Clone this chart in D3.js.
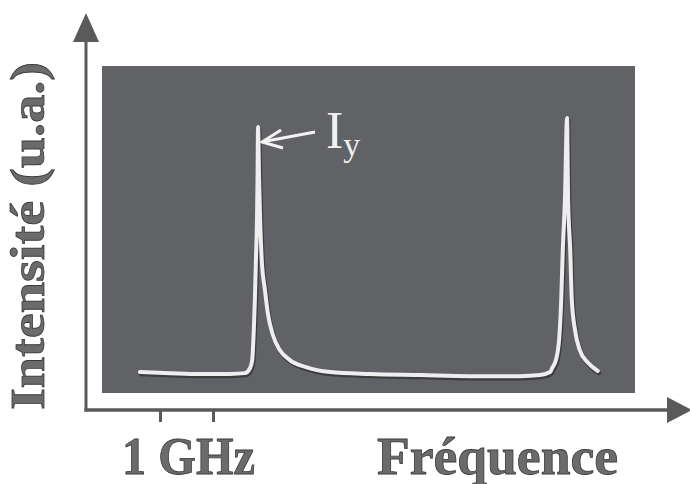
<!DOCTYPE html>
<html>
<head>
<meta charset="utf-8">
<script src="https://cdn.jsdelivr.net/npm/d3@7"></script>
<style>
  html, body { margin: 0; padding: 0; background: #ffffff; }
  svg { display: block; }
</style>
</head>
<body>
<svg id="chart" width="690" height="484"></svg>
<script>
// ---- Data ----
// Frequency in GHz (arbitrary origin), intensity in arbitrary units (u.a.)
const frequency = [0.62, 1.19, 1.75, 2.32, 2.60, 2.70, 2.74, 2.77, 2.79, 2.81, 2.83, 2.84, 2.85,
                   2.87, 2.89, 2.92, 2.98, 3.04, 3.13, 3.26, 3.45, 3.74, 4.21, 4.96, 5.91, 6.85,
                   7.79, 8.17, 8.36, 8.40, 8.47, 8.53, 8.57, 8.60, 8.64, 8.68,
                   8.70, 8.74, 8.77, 8.83, 8.92, 9.08, 9.26];
const intensity = [0.066, 0.062, 0.059, 0.059, 0.062, 0.081, 0.110, 0.221, 0.331, 0.478, 0.625, 0.772, 0.967,
                   0.772, 0.625, 0.478, 0.368, 0.276, 0.202, 0.147, 0.110, 0.085, 0.066, 0.059, 0.055, 0.051,
                   0.051, 0.055, 0.066, 0.081, 0.110, 0.184, 0.331, 0.515, 0.699, 1.000,
                   0.699, 0.515, 0.331, 0.221, 0.147, 0.099, 0.070];
const tickValues = [1, 2];
const tickLabel = "1 GHz";
const xTitle = "Fréquence";
const yTitle = "Intensité (u.a.)";
const peakLabel = "I";
const peakLabelSub = "y";
const peakIndex = 12; // the labelled peak

// ---- Layout ----
const svg = d3.select("#chart");
const x = d3.scaleLinear().domain([1, 2]).range([160, 213]);
const y = d3.scaleLinear().domain([0, 1]).range([390, 118]);

const SERIF = '"Liberation Serif"';
const axisColor = "#5a5a5a";
const panel = { x0: 102, x1: 635, y0: 66, y1: 393 };
const originX = 86, originY = 410;

// dark plot panel
svg.append("rect")
  .attr("x", panel.x0).attr("y", panel.y0)
  .attr("width", panel.x1 - panel.x0).attr("height", panel.y1 - panel.y0)
  .attr("fill", "#616266");

// axes lines
svg.append("line")
  .attr("x1", originX).attr("y1", originY + 1.5)
  .attr("x2", originX).attr("y2", 40)
  .attr("stroke", axisColor).attr("stroke-width", 3);
svg.append("line")
  .attr("x1", originX - 1.5).attr("y1", originY)
  .attr("x2", 670).attr("y2", originY)
  .attr("stroke", axisColor).attr("stroke-width", 3.5);
// arrowheads
svg.append("path")
  .attr("d", `M${originX},13 L${originX - 13},42 L${originX + 13},42 Z`)
  .attr("fill", axisColor);
svg.append("path")
  .attr("d", `M692,${originY} L667,${originY - 13} L667,${originY + 13} Z`)
  .attr("fill", axisColor);

// ticks via d3 axis
const xAxis = d3.axisBottom(x).tickValues(tickValues).tickSize(12).tickFormat("");
const gx = svg.append("g").attr("transform", `translate(0,${originY})`).call(xAxis);
gx.select(".domain").remove();
gx.selectAll(".tick line").attr("stroke", axisColor).attr("stroke-width", 3);

// ---- spectrum curve ----
const pts = frequency.map((f, i) => [f, intensity[i]]);
const line = d3.line().x(d => x(d[0])).y(d => y(d[1])).curve(d3.curveMonotoneX);

svg.append("path")
  .datum(pts)
  .attr("d", line)
  .attr("transform", "translate(1,2)")
  .attr("fill", "none")
  .attr("stroke", "#3c3d40")
  .attr("stroke-width", 4.5)
  .attr("stroke-linejoin", "round")
  .attr("stroke-linecap", "round");
svg.append("path")
  .datum(pts)
  .attr("d", line)
  .attr("fill", "none")
  .attr("stroke", "#eeeeee")
  .attr("stroke-width", 4)
  .attr("stroke-linejoin", "round")
  .attr("stroke-linecap", "round");

// ---- annotation I_y with arrow ----
const px = x(frequency[peakIndex]), py = y(intensity[peakIndex]);
const tipX = px + 4, tipY = py + 15;
svg.append("line")
  .attr("x1", 315).attr("y1", 132)
  .attr("x2", tipX + 2).attr("y2", tipY - 0.5)
  .attr("stroke", "#f2f2f2").attr("stroke-width", 3);
svg.append("path")
  .attr("d", `M${tipX + 19},${tipY - 12} L${tipX},${tipY} L${tipX + 21},${tipY + 6}`)
  .attr("fill", "none").attr("stroke", "#f2f2f2").attr("stroke-width", 3)
  .attr("stroke-linejoin", "miter");
const lab = svg.append("text")
  .style("font-family", SERIF)
  .attr("x", 326).attr("y", 148)
  .attr("font-size", 52)
  .attr("fill", "#f0f0f0");
lab.append("tspan").text(peakLabel);
lab.append("tspan").attr("dy", 8).attr("font-size", 34).text(peakLabelSub);

// ---- axis titles ----
const titleStyle = sel => sel
  .style("font-family", SERIF)
  .attr("font-weight", "bold")
  .attr("fill", "#6b6b6b")
  .attr("stroke", "#3a3a3a")
  .attr("stroke-width", 0.8);

svg.append("text")
  .attr("x", 122).attr("y", 474)
  .attr("font-size", 52)
  .attr("textLength", 133).attr("lengthAdjust", "spacingAndGlyphs")
  .call(titleStyle)
  .text(tickLabel);

svg.append("text")
  .attr("x", 377).attr("y", 474)
  .attr("font-size", 52)
  .attr("textLength", 241).attr("lengthAdjust", "spacingAndGlyphs")
  .call(titleStyle)
  .text(xTitle);

svg.append("text")
  .attr("transform", "translate(44,410) rotate(-90)")
  .attr("x", 0).attr("y", 0)
  .attr("font-size", 48)
  .attr("textLength", 348).attr("lengthAdjust", "spacingAndGlyphs")
  .call(titleStyle)
  .text(yTitle);
</script>
</body>
</html>
